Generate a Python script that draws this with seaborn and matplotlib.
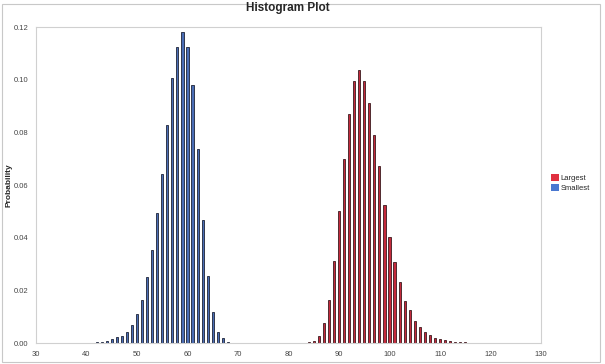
import seaborn as sns
import matplotlib.pyplot as plt
import matplotlib.patches as mpatches
import pandas as pd

# Values
smallest_x = list(range(42, 69))
smallest_p = [0.0003, 0.0005, 0.0008, 0.0014, 0.0022, 0.0028, 0.0043, 0.0070,
              0.0110, 0.0164, 0.0249, 0.0355, 0.0494, 0.0640, 0.0827, 0.1008,
              0.1123, 0.1182, 0.1123, 0.0979, 0.0735, 0.0466, 0.0256, 0.0117,
              0.0041, 0.0018, 0.0005]

largest_x = list(range(84, 116))
largest_p = [0.0003, 0.0009, 0.0028, 0.0075, 0.0164, 0.0310, 0.0500, 0.0700,
             0.0869, 0.0994, 0.1036, 0.0994, 0.0912, 0.0789, 0.0672, 0.0523,
             0.0403, 0.0306, 0.0230, 0.0161, 0.0125, 0.0085, 0.0061, 0.0041,
             0.0029, 0.0020, 0.0015, 0.0013, 0.0008, 0.0005, 0.0004, 0.0003]

series_names = ['Largest', 'Smallest']
face_colors = {'Largest': '#c42a3c', 'Smallest': '#4a6db5'}
edge_colors = {'Largest': '#3a1a1e', 'Smallest': '#1c2236'}
legend_colors = {'Largest': '#e0303f', 'Smallest': '#4a78d0'}

x_ticks = [30, 40, 50, 60, 70, 80, 90, 100, 110, 120, 130]
y_ticks = [0.00, 0.02, 0.04, 0.06, 0.08, 0.10, 0.12]

df = pd.concat([
    pd.DataFrame({'Value': largest_x, 'Probability': largest_p, 'Series': 'Largest'}),
    pd.DataFrame({'Value': smallest_x, 'Probability': smallest_p, 'Series': 'Smallest'}),
])

sns.set_style("white")
plt.rcParams['font.family'] = ['Liberation Sans', 'DejaVu Sans']

fig = plt.figure(figsize=(6.05, 3.64), dpi=100)
ax = fig.add_axes([36 / 605, 1 - 343 / 364, 505 / 605, 316 / 364])

for name in series_names:
    sub = df[df['Series'] == name]
    sns.histplot(data=sub, x='Value', weights='Probability', discrete=True,
                 shrink=0.42, color=face_colors[name], edgecolor=edge_colors[name],
                 linewidth=0.6, alpha=1, ax=ax)

ax.set_xlim(30, 130)
ax.set_ylim(0, 0.12)
ax.set_xticks(x_ticks)
ax.set_xticklabels([str(t) for t in x_ticks])
ax.set_yticks(y_ticks)
ax.set_yticklabels([f'{t:.2f}' for t in y_ticks])
ax.tick_params(axis='both', labelsize=5.5, colors='#444444', length=2, width=0.5)
ax.set_xlabel('')
ax.set_ylabel('Probability', fontsize=6, fontweight='bold')
ax.yaxis.set_label_coords(-23 / 505, 0.5)
for sp in ax.spines.values():
    sp.set_color('#d0d0d0')
    sp.set_linewidth(0.8)

fig.text(288 / 605, 1 - 8 / 364, 'Histogram Plot', ha='center', va='center',
         fontsize=8.5, fontweight='bold')

handles = [mpatches.Patch(facecolor=legend_colors[n], edgecolor='none', label=n)
           for n in series_names]
fig.legend(handles=handles, loc='center left', bbox_to_anchor=(548 / 605, 1 - 183 / 364),
           frameon=False, fontsize=5.5, handlelength=1.0, handleheight=1.0,
           handletextpad=0.2, labelspacing=0.3, borderaxespad=0)

# thin outer frame around the whole picture
fig.add_artist(mpatches.Rectangle((2 / 605, 2 / 364), 598 / 605, 358 / 364,
                                  transform=fig.transFigure, fill=False,
                                  edgecolor='#c8c8c8', linewidth=0.8))

fig.savefig('out.png', dpi=100)
